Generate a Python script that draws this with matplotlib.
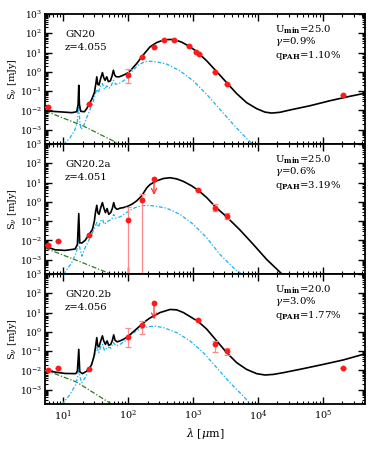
import numpy as np
import matplotlib.pyplot as plt
from matplotlib.ticker import LogLocator, NullFormatter

plt.rcParams['font.family'] = ['DejaVu Serif']
plt.rcParams['mathtext.fontset'] = 'dejavuserif'

# labels for each panel
names = ['GN20', 'GN20.2a', 'GN20.2b']
redshifts = ['z=4.055', 'z=4.051', 'z=4.056']
umin = ['25.0', '25.0', '20.0']
gamma = ['0.9', '0.6', '3.0']
qpah = ['1.10', '3.19', '1.77']

# photometry (wavelength um, flux mJy, lower / upper error mJy)
gn20_lam = [5.87, 24.6, 100.7, 161, 250, 357, 509, 867, 1110, 1220, 2210, 3300, 2.07e5]
gn20_flux = [0.0155, 0.0205, 0.72, 5.8, 19, 46, 45, 21, 11, 8.9, 1.0, 0.22, 0.063]
gn20_elo = [0, 0, 0.45, 0, 0, 0, 0, 0, 0, 0, 0, 0, 0]
gn20_ehi = [0, 0, 0.64, 0, 0, 0, 0, 0, 0, 0, 0, 0, 0]
gn20_ul_lam = []
gn20_ul_flux = []

a_lam = [5.87, 8.2, 24.6, 100.7, 161, 1210, 2210, 3300]
a_flux = [0.0057, 0.0093, 0.019, 0.115, 1.26, 3.9, 0.50, 0.18]
a_elo = [0, 0, 0, 0.11499, 1.25999, 0, 0.185, 0.058]
a_ehi = [0, 0, 0, 0.43, 1.44, 0, 0.29, 0.085]
a_ul_lam = [250]
a_ul_flux = [16]

b_lam = [5.87, 8.2, 24.6, 100.7, 161, 1210, 2210, 3300, 2.07e5]
b_flux = [0.0104, 0.0138, 0.0113, 0.57, 2.3, 3.9, 0.22, 0.10, 0.0138]
b_elo = [0, 0, 0, 0.40, 1.55, 0, 0.135, 0.034, 0]
b_ehi = [0, 0, 0, 1.09, 1.4, 0, 0.13, 0.05, 0]
b_ul_lam = [250]
b_ul_flux = [31]

# model curves, (log10 lambda, log10 S)
gn20_total = [(0.718, -2.03), (0.924, -2.07), (1.129, -2.12), (1.206, -2.07), (1.227, -1.69),
              (1.237, -0.70), (1.247, -1.69), (1.268, -2.05), (1.324, -2.07), (1.360, -1.91),
              (1.391, -1.69), (1.437, -1.43), (1.478, -1.08), (1.499, -0.65), (1.515, -0.26),
              (1.530, -0.65), (1.550, -0.68), (1.571, -0.39), (1.602, -0.04), (1.622, -0.30),
              (1.643, -0.44), (1.669, -0.26), (1.694, -0.51), (1.725, -0.47), (1.751, -0.21),
              (1.771, 0.08), (1.792, -0.18), (1.818, -0.26), (1.859, -0.26), (1.900, -0.21),
              (1.951, -0.13), (2.003, -0.04), (2.054, 0.14), (2.131, 0.43), (2.208, 0.78),
              (2.285, 1.09), (2.337, 1.30), (2.440, 1.52), (2.543, 1.65), (2.645, 1.68),
              (2.722, 1.66), (2.825, 1.54), (2.938, 1.33), (3.056, 1.06), (3.211, 0.57),
              (3.365, 0.01), (3.519, -0.56), (3.673, -1.13), (3.827, -1.60), (3.981, -1.91),
              (4.110, -2.09), (4.213, -2.14), (4.341, -2.10), (4.495, -1.98), (4.804, -1.76),
              (5.112, -1.50), (5.420, -1.27), (5.667, -1.10)]
gn20_cold = [(1.001, -3.77), (1.103, -3.42), (1.180, -2.99), (1.216, -2.56), (1.237, -1.55),
             (1.252, -2.56), (1.273, -2.99), (1.309, -2.82), (1.360, -2.38), (1.412, -1.95),
             (1.463, -1.51), (1.489, -1.17), (1.515, -0.91), (1.540, -1.08), (1.571, -0.73),
             (1.602, -0.61), (1.633, -0.91), (1.669, -0.73), (1.705, -0.85), (1.735, -0.73),
             (1.771, -0.44), (1.807, -0.65), (1.859, -0.61), (1.926, -0.47), (1.992, -0.30),
             (2.064, 0.05), (2.157, 0.36), (2.260, 0.53), (2.337, 0.55), (2.465, 0.50),
             (2.594, 0.40), (2.80, 0.05), (3.005, -0.47), (3.211, -1.17), (3.416, -1.95),
             (3.622, -2.73), (3.827, -3.46), (3.956, -3.86)]
gn20_stars = [(0.718, -2.03), (1.30, -2.80), (1.849, -3.72)]

a_total = [(0.718, -2.30), (0.872, -2.49), (1.026, -2.52), (1.180, -2.45), (1.216, -2.21),
           (1.237, -0.61), (1.252, -2.12), (1.283, -2.14), (1.335, -2.00), (1.391, -1.72),
           (1.448, -1.43), (1.478, -0.99), (1.494, -0.56), (1.515, -0.18), (1.530, -0.56),
           (1.550, -0.65), (1.576, -0.30), (1.602, -0.04), (1.622, -0.30), (1.648, -0.56),
           (1.674, -0.35), (1.699, -0.65), (1.730, -0.56), (1.756, -0.33), (1.776, -0.04),
           (1.797, -0.30), (1.828, -0.39), (1.874, -0.33), (1.926, -0.30), (1.992, -0.23),
           (2.054, -0.13), (2.131, 0.05), (2.208, 0.31), (2.285, 0.72), (2.337, 0.90),
           (2.440, 1.09), (2.543, 1.21), (2.645, 1.25), (2.748, 1.19), (2.851, 1.06),
           (2.979, 0.83), (3.082, 0.59), (3.211, 0.22), (3.344, -0.26), (3.519, -0.78),
           (3.724, -1.46), (3.930, -2.21), (4.136, -2.99), (4.392, -3.81)]
a_cold = [(1.001, -3.77), (1.129, -3.16), (1.196, -2.64), (1.222, -2.30), (1.237, -1.77),
          (1.252, -2.38), (1.283, -2.82), (1.335, -2.38), (1.412, -1.86), (1.478, -1.38),
          (1.515, -1.08), (1.540, -1.31), (1.576, -0.99), (1.602, -0.91), (1.633, -1.17),
          (1.694, -0.99), (1.746, -0.91), (1.776, -0.65), (1.807, -0.85), (1.874, -0.78),
          (1.951, -0.61), (2.028, -0.44), (2.105, -0.30), (2.208, -0.21), (2.311, -0.18),
          (2.414, -0.22), (2.594, -0.33), (2.80, -0.65), (3.005, -1.17), (3.211, -1.86),
          (3.416, -2.73), (3.622, -3.42), (3.776, -3.81)]
a_stars = [(0.718, -2.40), (1.20, -3.03), (1.72, -3.73)]

b_total = [(0.718, -1.98), (0.872, -2.09), (1.026, -2.16), (1.190, -2.17), (1.216, -2.03),
           (1.237, -0.91), (1.252, -2.07), (1.293, -2.17), (1.345, -2.07), (1.391, -1.95),
           (1.437, -1.69), (1.473, -1.25), (1.494, -0.82), (1.515, -0.30), (1.530, -0.73),
           (1.550, -0.78), (1.576, -0.47), (1.602, -0.21), (1.622, -0.47), (1.648, -0.65),
           (1.674, -0.47), (1.699, -0.70), (1.730, -0.65), (1.756, -0.44), (1.776, -0.16),
           (1.797, -0.44), (1.828, -0.52), (1.874, -0.47), (1.926, -0.39), (1.992, -0.25),
           (2.080, 0.01), (2.183, 0.31), (2.285, 0.60), (2.337, 0.72), (2.491, 1.00),
           (2.645, 1.16), (2.748, 1.14), (2.851, 1.00), (2.979, 0.74), (3.082, 0.53),
           (3.211, 0.14), (3.365, -0.47), (3.519, -1.08), (3.673, -1.60), (3.827, -1.95),
           (3.981, -2.17), (4.110, -2.24), (4.238, -2.21), (4.392, -2.12), (4.701, -1.91),
           (5.009, -1.69), (5.317, -1.46), (5.667, -1.13)]
b_cold = [(0.975, -3.77), (1.103, -3.25), (1.191, -2.73), (1.222, -2.30), (1.237, -1.60),
          (1.252, -2.30), (1.283, -2.64), (1.335, -2.38), (1.396, -1.95), (1.463, -1.43),
          (1.499, -0.99), (1.520, -0.82), (1.545, -1.08), (1.576, -0.78), (1.602, -0.65),
          (1.633, -0.96), (1.684, -0.78), (1.730, -0.85), (1.771, -0.56), (1.813, -0.73),
          (1.874, -0.65), (1.951, -0.47), (2.028, -0.21), (2.105, 0.01), (2.208, 0.19),
          (2.311, 0.27), (2.414, 0.29), (2.543, 0.22), (2.748, -0.04), (2.954, -0.47),
          (3.159, -1.08), (3.365, -1.86), (3.570, -2.64), (3.776, -3.34), (3.904, -3.81)]
b_stars = [(0.718, -1.98), (1.20, -2.60), (1.73, -3.72)]

panels = [
    (gn20_lam, gn20_flux, gn20_elo, gn20_ehi, gn20_ul_lam, gn20_ul_flux, gn20_total, gn20_cold, gn20_stars),
    (a_lam, a_flux, a_elo, a_ehi, a_ul_lam, a_ul_flux, a_total, a_cold, a_stars),
    (b_lam, b_flux, b_elo, b_ehi, b_ul_lam, b_ul_flux, b_total, b_cold, b_stars),
]

fig = plt.figure(figsize=(3.74, 4.49), dpi=100)
left, width = 45 / 374, 320 / 374
h = 130 / 449
bottoms = [(449 - 144) / 449, (449 - 274) / 449, (449 - 404) / 449]

axes = []
for i, (lam, flux, elo, ehi, ul_lam, ul_flux, total, cold, stars) in enumerate(panels):
    ax = fig.add_axes([left, bottoms[i], width, h], sharex=axes[0] if axes else None)
    axes.append(ax)

    for curve, col, ls, lw in [(stars, '#2F7A1F', (0, (4, 1.5, 1, 1.5)), 0.9),
                               (cold, '#1AB2EE', (0, (3, 1.5, 1, 1.5)), 0.9),
                               (total, 'black', '-', 1.2)]:
        c = np.array(curve).T
        ax.plot(10 ** c[0], 10 ** c[1], color=col, ls=ls, lw=lw)

    ax.errorbar(lam, flux, yerr=[elo, ehi], fmt='none', ecolor='#FF8C8C',
                elinewidth=0.9, capsize=2, capthick=0.9, zorder=3)
    ax.plot(lam, flux, 'o', color='#FF1A1A', ms=4.2, mec='none', zorder=4)
    for ul_x, ul_y in zip(ul_lam, ul_flux):
        ax.plot(ul_x, ul_y, 'o', color='#FF1A1A', ms=4.2, mec='none', zorder=4)
        ax.annotate('', xy=(ul_x, ul_y / 7), xytext=(ul_x, ul_y),
                    arrowprops=dict(arrowstyle='->', color='#FF3030', lw=0.9,
                                    mutation_scale=9, shrinkA=0, shrinkB=0))

    ax.set_xscale('log')
    ax.set_yscale('log')
    ax.set_xlim(5.2, 4.5e5)
    ax.set_ylim(1.8e-4, 1e3)
    ax.yaxis.set_major_locator(LogLocator(base=10, numticks=20))
    ax.yaxis.set_minor_locator(LogLocator(base=10, subs=np.arange(2, 10), numticks=20))
    ax.yaxis.set_minor_formatter(NullFormatter())
    ax.tick_params(which='both', direction='in', top=True, right=True, labelsize=6.5, pad=2)
    ax.tick_params(which='major', length=5, width=1)
    ax.tick_params(which='minor', length=2.5, width=0.8)
    for sp in ax.spines.values():
        sp.set_linewidth(1.3)
    ax.set_ylabel(r'S$_\nu$ [mJy]', fontsize=7)
    ax.yaxis.set_label_coords(-0.082, 0.5)

    ax.text(0.0625, 0.845, names[i], transform=ax.transAxes, fontsize=7.3, va='center')
    ax.text(0.0625, 0.74, redshifts[i], transform=ax.transAxes, fontsize=7.3, va='center')
    ax.text(0.72, 0.88, r'U$_{\mathbf{min}}$=' + umin[i], transform=ax.transAxes, fontsize=7.3, va='center')
    ax.text(0.72, 0.785, r'$\gamma$=' + gamma[i] + '%', transform=ax.transAxes, fontsize=7.3, va='center')
    ax.text(0.72, 0.68, r'q$_{\mathbf{PAH}}$=' + qpah[i] + '%', transform=ax.transAxes, fontsize=7.3, va='center')

    if i < 2:
        ax.tick_params(labelbottom=False)

axes[-1].xaxis.set_major_locator(LogLocator(base=10, numticks=20))
axes[-1].xaxis.set_minor_locator(LogLocator(base=10, subs=np.arange(2, 10), numticks=20))
axes[-1].xaxis.set_minor_formatter(NullFormatter())
axes[-1].tick_params(axis='x', labelsize=7, pad=3)
axes[-1].set_xlabel(r'$\lambda$ [$\mu$m]', fontsize=8, labelpad=2)

fig.savefig('out.png', dpi=100)
